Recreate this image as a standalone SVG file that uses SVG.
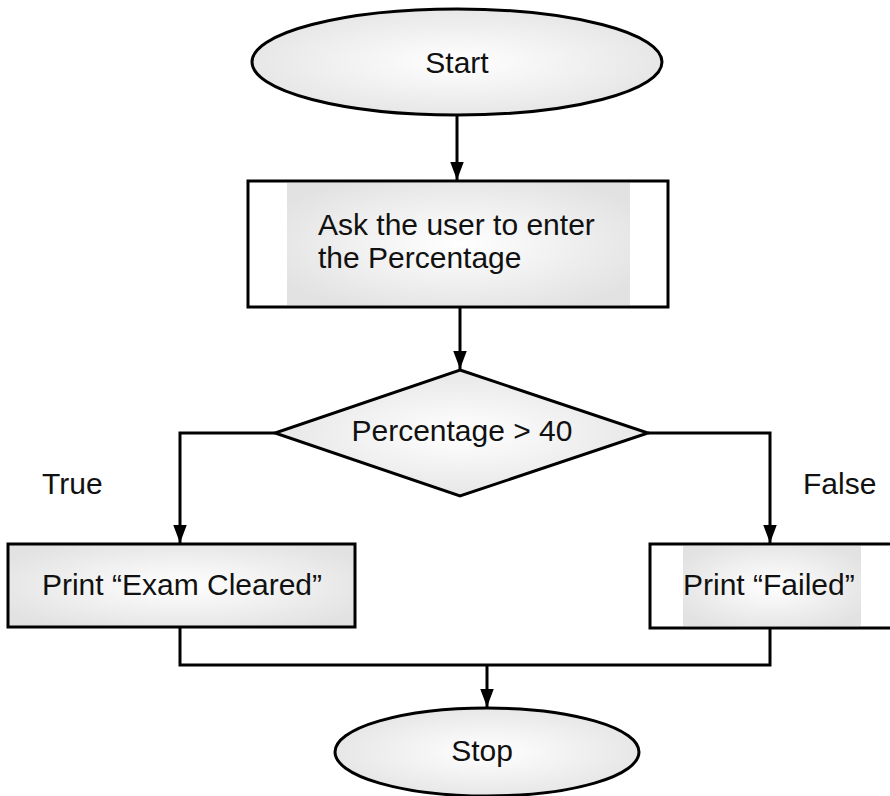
<svg xmlns="http://www.w3.org/2000/svg" width="890" height="796" viewBox="0 0 890 796">
<defs>
<radialGradient id="g" cx="50%" cy="50%" r="60%">
<stop offset="0" stop-color="#ffffff"/>
<stop offset="1" stop-color="#e2e2e2"/>
</radialGradient>
<marker id="arr" markerWidth="18" markerHeight="24" refX="24" refY="9" orient="auto" markerUnits="userSpaceOnUse" viewBox="0 0 24 18">
<path d="M0,0 L24,9 L0,18 Z" fill="#000"/>
</marker>
</defs>
<style>
.s{stroke:#000;stroke-width:3;}
.t{font-family:"Liberation Sans",Arial,sans-serif;font-size:30px;fill:#111;}
.c{stroke:#000;stroke-width:3;fill:none;}
</style>
<rect width="890" height="796" fill="#fff"/>
<g id="start">
<ellipse cx="457" cy="62" rx="205" ry="53" fill="url(#g)" class="s"/>
<text class="t" x="457" y="73" text-anchor="middle">Start</text>
</g>
<g id="ask">
<rect x="248" y="181" width="420" height="126" fill="#fff" class="s"/>
<rect x="287" y="183" width="343" height="122" fill="url(#g)"/>
<text class="t" x="318" y="235">Ask the user to enter</text>
<text class="t" x="318" y="268">the Percentage</text>
</g>
<g id="decision">
<polygon points="460,370 648,433 460,496 275,433" fill="url(#g)" class="s"/>
<text class="t" x="462" y="441" text-anchor="middle">Percentage &gt; 40</text>
</g>
<g id="cleared">
<rect x="8" y="544" width="347" height="83" fill="url(#g)" class="s"/>
<text class="t" x="182" y="595" text-anchor="middle">Print “Exam Cleared”</text>
</g>
<g id="failed">
<rect x="650" y="544" width="250" height="84" fill="#fff" class="s"/>
<rect x="683" y="546" width="178" height="80" fill="url(#g)"/>
<text class="t" x="683" y="595">Print “Failed”</text>
</g>
<g id="stop">
<ellipse cx="487" cy="752" rx="152" ry="44" fill="url(#g)" class="s"/>
<text class="t" x="482" y="761" text-anchor="middle">Stop</text>
</g>
<g id="labels">
<text class="t" x="42" y="494">True</text>
<text class="t" x="803" y="494">False</text>
</g>
<g id="connectors">
<line x1="457" y1="115" x2="457" y2="180" class="c" marker-end="url(#arr)"/>
<line x1="460" y1="307" x2="460" y2="369" class="c" marker-end="url(#arr)"/>
<polyline points="275,433 180,433 180,543" class="c" marker-end="url(#arr)"/>
<polyline points="648,433 770,433 770,543" class="c" marker-end="url(#arr)"/>
<polyline points="180,627 180,665 770,665 770,628" class="c"/>
<line x1="487" y1="665" x2="487" y2="707" class="c" marker-end="url(#arr)"/>
</g>
</svg>
